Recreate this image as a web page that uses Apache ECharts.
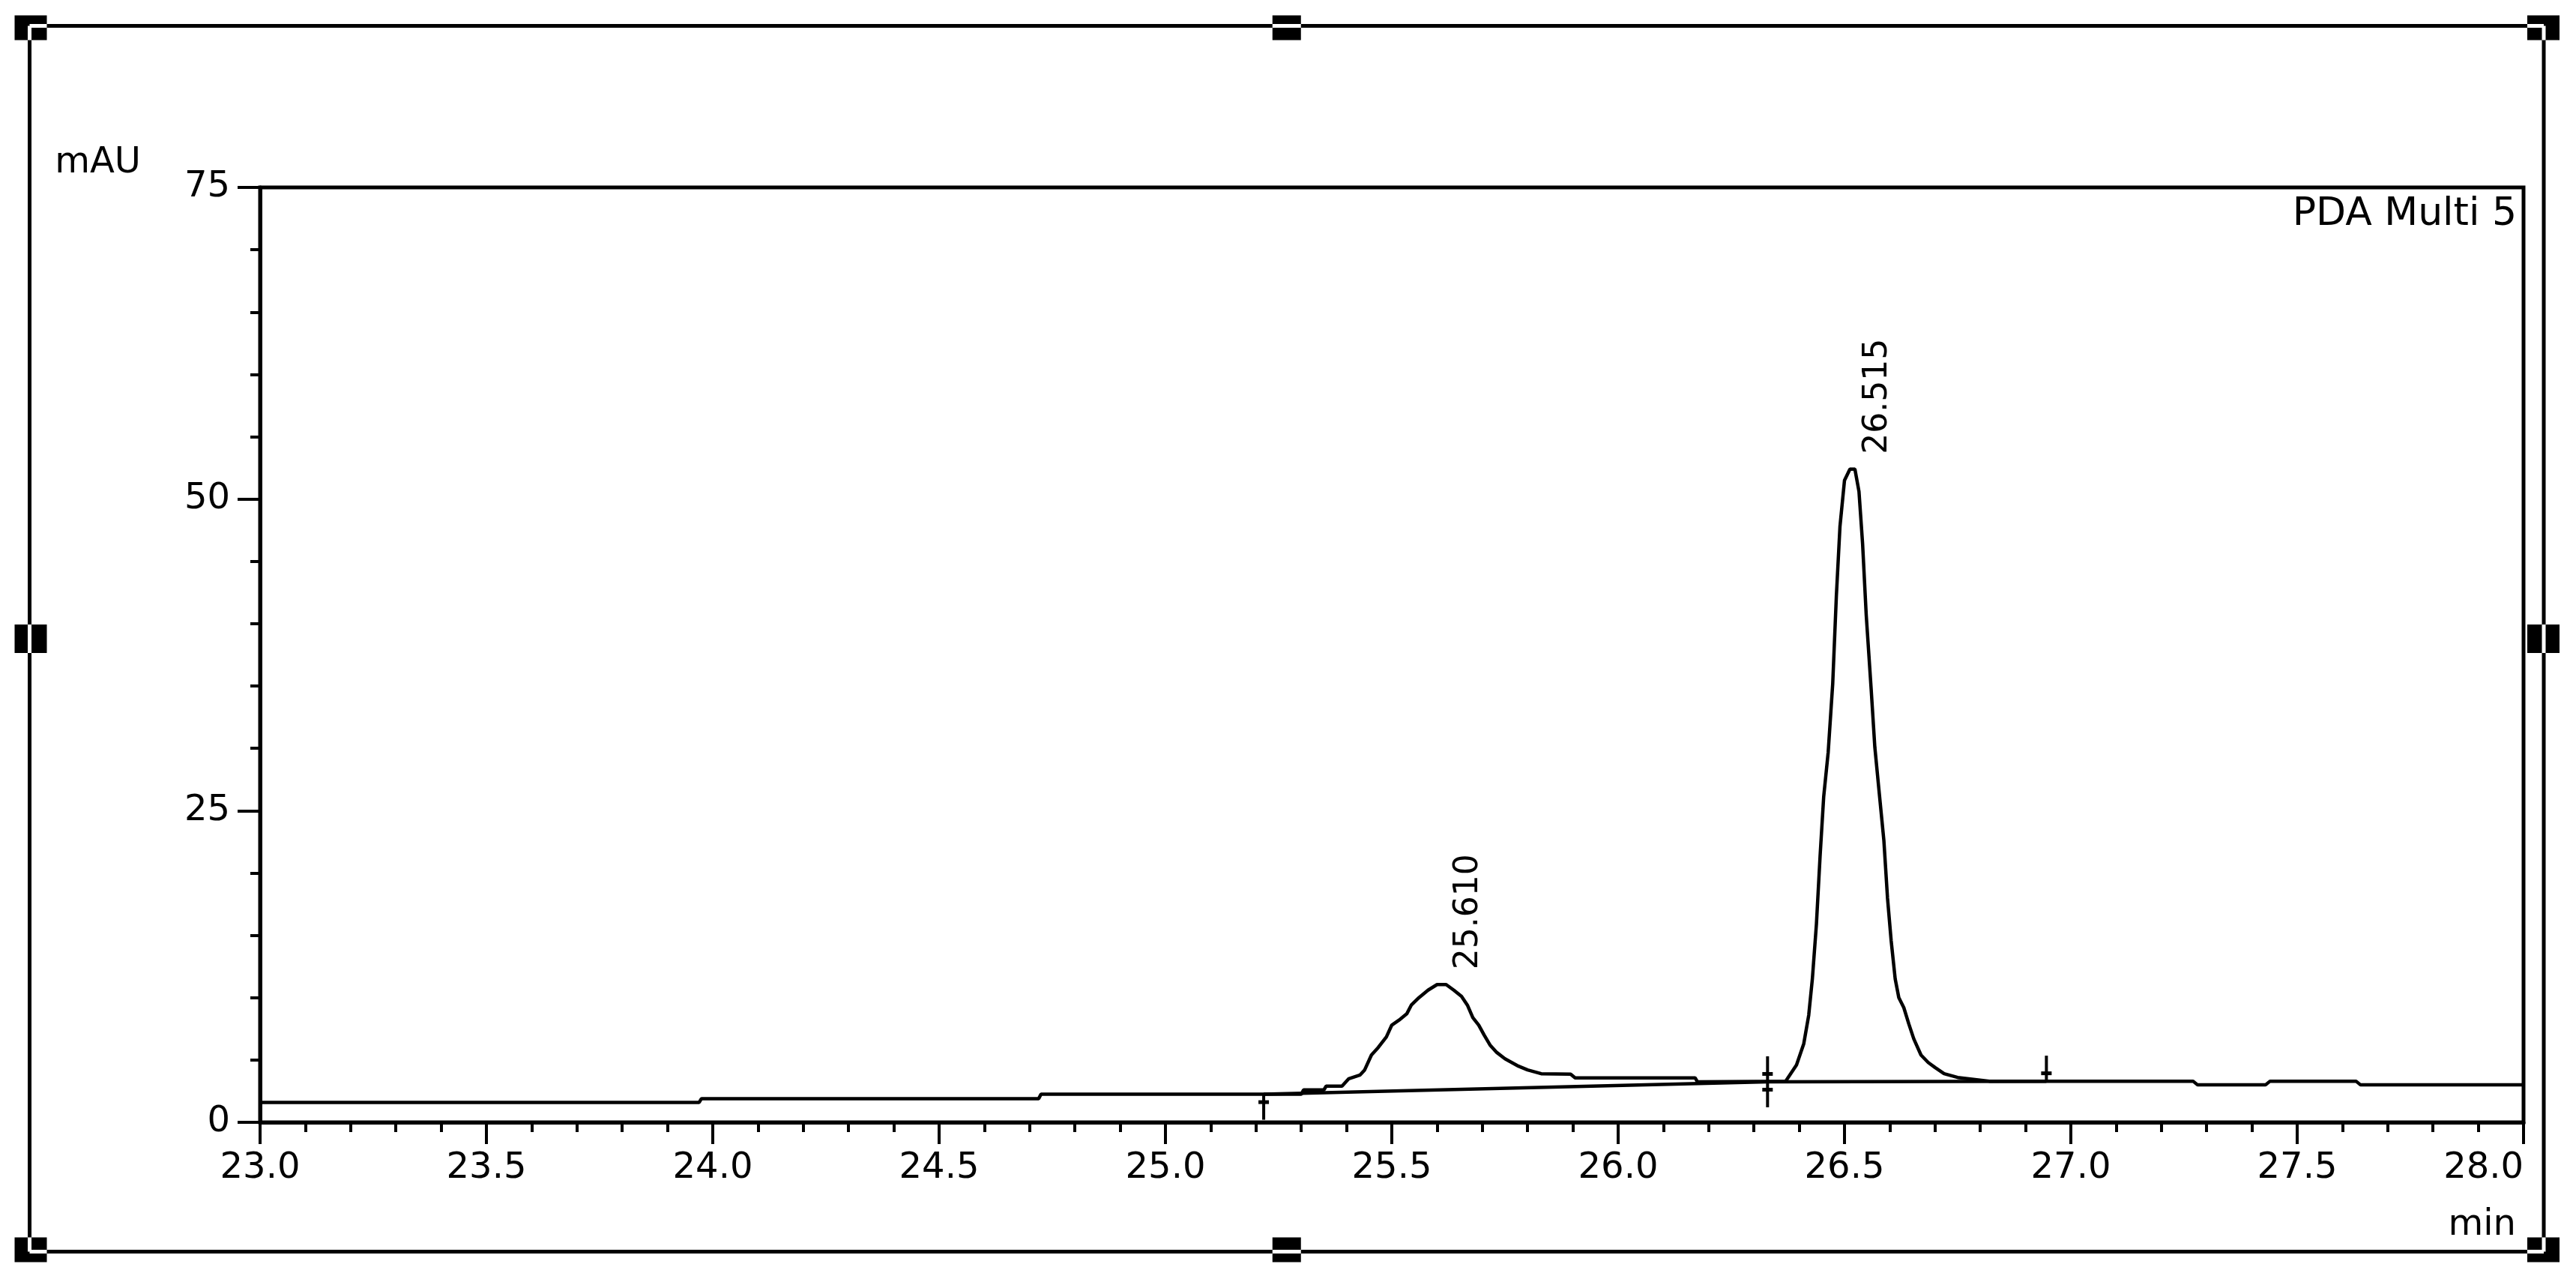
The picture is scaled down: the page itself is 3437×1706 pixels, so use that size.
<!DOCTYPE html>
<html>
<head>
<meta charset="utf-8">
<script src="https://cdn.jsdelivr.net/npm/echarts@6/dist/echarts.min.js"></script>
<style>
html,body{margin:0;padding:0;background:#fff;}
#chart{width:3437px;height:1706px;}
</style>
</head>
<body>
<div id="chart"></div>
<script>
// ---- data ----
const traceTime = [23.00, 23.97, 23.975, 24.72, 24.725, 25.30, 25.305, 25.35, 25.355, 25.39,
  25.405, 25.43, 25.44, 25.455, 25.47, 25.488, 25.50, 25.516, 25.533, 25.543,
  25.56, 25.58, 25.60, 25.62, 25.637, 25.654, 25.667, 25.679, 25.692, 25.704,
  25.717, 25.732, 25.75, 25.78, 25.80, 25.83, 25.895, 25.905, 26.17, 26.175,
  26.37, 26.394, 26.41, 26.421, 26.429, 26.438, 26.446, 26.454, 26.464, 26.474,
  26.482, 26.49, 26.50, 26.512, 26.523, 26.532, 26.54, 26.548, 26.559, 26.567,
  26.576, 26.587, 26.595, 26.603, 26.612, 26.62, 26.631, 26.642, 26.653, 26.669,
  26.685, 26.70, 26.72, 26.75, 26.82, 27.27, 27.28, 27.43, 27.44, 27.63,
  27.64, 28.00];
const traceMAU = [1.6, 1.6, 1.9, 1.9, 2.25, 2.25, 2.6, 2.6, 2.9, 2.9,
  3.5, 3.8, 4.2, 5.4, 6.0, 6.85, 7.8, 8.2, 8.7, 9.4,
  10.0, 10.6, 11.05, 11.05, 10.6, 10.1, 9.4, 8.4, 7.8, 7.0,
  6.2, 5.6, 5.1, 4.5, 4.2, 3.9, 3.87, 3.57, 3.57, 3.25,
  3.3, 4.6, 6.3, 8.6, 11.5, 15.9, 21.3, 26.1, 29.7, 35.2,
  42.2, 47.8, 51.5, 52.4, 52.4, 50.6, 46.4, 40.7, 34.7, 30.1,
  26.7, 22.6, 18.0, 14.6, 11.5, 10.0, 9.2, 7.9, 6.7, 5.4,
  4.8, 4.4, 3.9, 3.6, 3.3, 3.3, 3.0, 3.0, 3.3, 3.3,
  3.0, 3.0];

// integration baselines
const base1Time = [25.217, 26.33];
const base1MAU  = [2.25, 3.25];
const base2Time = [26.33, 26.946];
const base2MAU  = [3.25, 3.3];

// peak start / end markers
const markerTime = [25.217, 26.33, 26.946];
const markerMAU  = [2.25, 3.25, 3.3];
const markerKind = ['start', 'both', 'end'];

// peak retention times and apex heights
const peakTime = [25.610, 26.515];
const peakApex = [11.05, 52.4];

// axis ticks
const xMin = 23, xMax = 28, xStep = 0.5;
const yMin = 0, yMax = 75, yStep = 25;

const FONT = '"DejaVu Sans", "Liberation Sans", sans-serif';

const zip = (a, b) => a.map((v, i) => [v, b[i]]);

// ---- frame with selection handles ----
const F = {l: 39.5, t: 34.5, r: 3394, b: 1669.5};
const mx = (F.l + F.r) / 2, my = (F.t + F.b) / 2;
const graphics = [{
  type: 'rect', z: 100, silent: true,
  shape: {x: F.l, y: F.t, width: F.r - F.l, height: F.b - F.t},
  style: {fill: 'none', stroke: '#000', lineWidth: 5}
}];
function handle(x, y, w, h, whites) {
  graphics.push({type: 'rect', z: 101, silent: true, shape: {x: x, y: y, width: w, height: h}, style: {fill: '#000'}});
  whites.forEach(s => graphics.push({type: 'line', z: 102, silent: true,
    shape: {x1: s[0], y1: s[1], x2: s[2], y2: s[3]}, style: {stroke: '#fff', lineWidth: 5}}));
}
// corners
handle(F.l - 20, F.t - 14, 43, 33, [[F.l, F.t, F.l + 23, F.t], [F.l, F.t, F.l, F.t + 19]]);
handle(F.r - 22, F.t - 14, 43, 33, [[F.r - 22, F.t, F.r, F.t], [F.r, F.t, F.r, F.t + 19]]);
handle(F.l - 20, F.b - 19, 43, 33, [[F.l, F.b, F.l + 23, F.b], [F.l, F.b - 19, F.l, F.b]]);
handle(F.r - 22, F.b - 19, 43, 33, [[F.r - 22, F.b, F.r, F.b], [F.r, F.b - 19, F.r, F.b]]);
// mids
handle(mx - 19, F.t - 14, 38, 33, [[mx - 19, F.t, mx + 19, F.t]]);
handle(mx - 19, F.b - 19, 38, 33, [[mx - 19, F.b, mx + 19, F.b]]);
handle(F.l - 20, my - 19, 43, 38, [[F.l, my - 19, F.l, my + 19]]);
handle(F.r - 22, my - 19, 43, 38, [[F.r, my - 19, F.r, my + 19]]);

const chart = echarts.init(document.getElementById('chart'), null, {renderer: 'canvas'});
const axisLineStyle = {color: '#000', width: 5};
const option = {
  animation: false,
  backgroundColor: '#fff',
  title: {
    text: 'PDA Multi 5', right: 79, top: 260, padding: 0,
    textStyle: {fontFamily: FONT, fontSize: 52, fontWeight: 'normal', color: '#000'}
  },
  grid: {
    left: 347, right: 70, top: 250, bottom: 209,
    show: true, borderColor: '#000', borderWidth: 5, backgroundColor: 'transparent'
  },
  xAxis: {
    type: 'value', min: xMin, max: xMax, interval: xStep,
    name: 'min', nameLocation: 'end', nameGap: 0, nameMoveOverlap: false,
    nameTextStyle: {fontFamily: FONT, fontSize: 48, color: '#000', align: 'right', verticalAlign: 'top', padding: [114, 10, 0, 0]},
    axisLine: {show: true, onZero: false, lineStyle: axisLineStyle},
    axisTick: {show: true, inside: false, length: 29, lineStyle: {color: '#000', width: 4}},
    minorTick: {show: true, splitNumber: 5, length: 13, lineStyle: {color: '#000', width: 4}},
    splitLine: {show: false}, minorSplitLine: {show: false},
    axisLabel: {show: true, margin: 38, color: '#000', fontFamily: FONT, fontSize: 48,
      alignMaxLabel: 'right', formatter: v => v.toFixed(1)}
  },
  yAxis: {
    type: 'value', min: yMin, max: yMax, interval: yStep,
    name: 'mAU', nameLocation: 'end', nameGap: 8, nameMoveOverlap: false,
    nameTextStyle: {fontFamily: FONT, fontSize: 48, color: '#000', align: 'right', verticalAlign: 'bottom', padding: [0, 159, 0, 0]},
    axisLine: {show: true, onZero: false, lineStyle: axisLineStyle},
    axisTick: {show: true, inside: false, length: 30, lineStyle: {color: '#000', width: 4}},
    minorTick: {show: true, splitNumber: 5, length: 13, lineStyle: {color: '#000', width: 4}},
    splitLine: {show: false}, minorSplitLine: {show: false},
    axisLabel: {show: true, margin: 40, color: '#000', fontFamily: FONT, fontSize: 48}
  },
  graphic: graphics,
  series: [
    {
      name: 'PDA Multi 5', type: 'line', data: zip(traceTime, traceMAU),
      showSymbol: false, symbol: 'none', smooth: false, z: 5,
      lineStyle: {color: '#000', width: 4.5}, silent: true
    },
    {
      name: 'baseline 1', type: 'line', data: zip(base1Time, base1MAU),
      showSymbol: false, symbol: 'none', z: 4, lineStyle: {color: '#000', width: 4.5}, silent: true
    },
    {
      name: 'baseline 2', type: 'line', data: zip(base2Time, base2MAU),
      showSymbol: false, symbol: 'none', z: 4, lineStyle: {color: '#000', width: 4.5}, silent: true
    },
    {
      name: 'markers', type: 'custom', z: 6, silent: true,
      data: zip(markerTime, markerMAU),
      renderItem: function (params, api) {
        const p = api.coord([api.value(0), api.value(1)]);
        const kind = markerKind[params.dataIndex];
        const ch = [];
        const st = {stroke: '#000', lineWidth: 4};
        if (kind !== 'start') {
          ch.push({type: 'line', shape: {x1: p[0], y1: p[1] - 34, x2: p[0], y2: p[1]}, style: st});
          ch.push({type: 'rect', shape: {x: p[0] - 7, y: p[1] - 13, width: 14, height: 5}, style: {fill: '#000'}});
        }
        if (kind !== 'end') {
          ch.push({type: 'line', shape: {x1: p[0], y1: p[1], x2: p[0], y2: p[1] + 34}, style: st});
          ch.push({type: 'rect', shape: {x: p[0] - 7, y: p[1] + 8, width: 14, height: 5}, style: {fill: '#000'}});
        }
        return {type: 'group', children: ch};
      }
    },
    {
      name: 'peak labels', type: 'custom', z: 6, silent: true,
      data: zip(peakTime, peakApex),
      renderItem: function (params, api) {
        const p = api.coord([api.value(0), api.value(1)]);
        return {
          type: 'text', x: p[0] + 36, y: p[1] - 20, rotation: Math.PI / 2,
          style: {text: api.value(0).toFixed(3), fill: '#000', fontFamily: FONT, fontSize: 44,
            align: 'left', verticalAlign: 'middle'}
        };
      }
    }
  ]
};
chart.setOption(option);
</script>
</body>
</html>
